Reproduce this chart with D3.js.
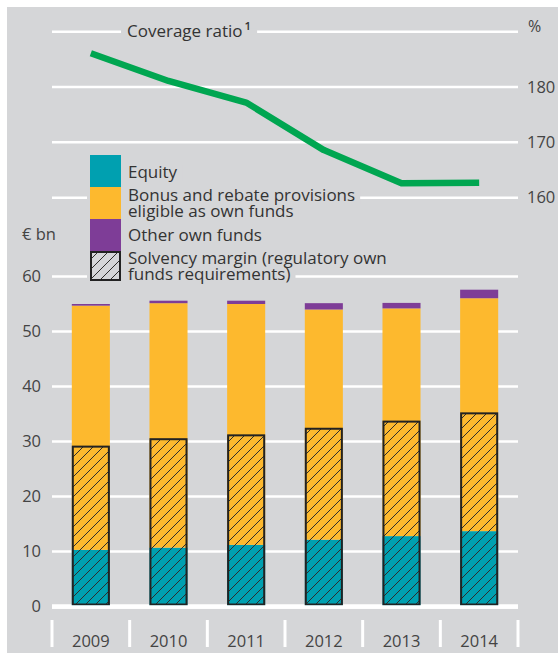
<!DOCTYPE html>
<html>
<head>
<meta charset="utf-8">
<script src="https://cdn.jsdelivr.net/npm/d3@7"></script>
<style>
  html, body { margin: 0; padding: 0; background: #fff; }
  svg { display: block; font-family: "Open Sans", "Noto Sans", sans-serif; }
</style>
</head>
<body>
<svg id="chart" width="558" height="653"></svg>
<script>
// Categories
const years = ["2009", "2010", "2011", "2012", "2013", "2014"];

// Own funds components, € bn (stacked)
const equity = [10.3, 10.7, 11.2, 12.15, 12.8, 13.7];
const bonusProvisions = [44.4, 44.45, 43.8, 41.85, 41.4, 42.35];
const otherOwnFunds = [0.3, 0.45, 0.6, 1.15, 1.0, 1.55];

// Solvency margin (regulatory own funds requirements), € bn
const solvencyMargin = [29.25, 30.6, 31.3, 32.5, 33.8, 35.3];

// Coverage ratio, %
const coverageRatio = [186.1, 181.1, 177.2, 168.6, 162.6, 162.7];

// Axis ticks
const barTicks = [0, 10, 20, 30, 40, 50, 60];
const ratioTicks = [160, 170, 180];

const colors = { equity: "#00a0b0", bonus: "#fdb92e", other: "#7e3d97", line: "#00a651" };
const bg = "#d5d6d8";
const textColor = "#333";

const svg = d3.select("#chart");

// Panel
svg.append("rect").attr("width", 558).attr("height", 653).attr("fill", "#fff");
svg.append("rect").attr("x", 7).attr("y", 7).attr("width", 551).attr("height", 646).attr("fill", bg);

// Hatch pattern for the solvency margin
const defs = svg.append("defs");
defs.append("pattern")
  .attr("id", "hatch")
  .attr("patternUnits", "userSpaceOnUse")
  .attr("width", 10).attr("height", 10)
  .append("path")
  .attr("d", "M-1,1 l2,-2 M0,10 l10,-10 M9,11 l2,-2")
  .attr("stroke", "#2e2e2e")
  .attr("stroke-width", 1);

// Scales
const x = d3.scaleBand().domain(years).range([52, 518]).paddingInner(0.51).paddingOuter(0.255);
const yBar = d3.scaleLinear().domain([0, 60]).range([606.5, 276.5]);
const yLine = d3.scaleLinear().domain([160, 190]).range([197.7, 31.7]);

// ---------- Upper panel: coverage ratio ----------
svg.append("g").selectAll("line")
  .data([160, 170, 180, 190])
  .join("line")
  .attr("x1", 52).attr("x2", 518)
  .attr("y1", d => yLine(d)).attr("y2", d => yLine(d))
  .attr("stroke", "#fff").attr("stroke-width", 2.5);

const rightAxis = svg.append("g")
  .attr("transform", "translate(518,0)")
  .call(d3.axisRight(yLine).tickValues(ratioTicks).tickSize(0).tickPadding(9));
rightAxis.select(".domain").remove();
rightAxis.selectAll("text")
  .attr("fill", "#444").attr("font-size", 16.5).attr("font-family", "'Open Sans', sans-serif");

svg.append("text")
  .attr("x", 528).attr("y", 32)
  .attr("fill", "#444").attr("font-size", 16)
  .text("%");

// Title label sitting on the top grid line
const titleG = svg.append("g");
const titleBg = titleG.append("rect").attr("fill", bg);
const title = titleG.append("text")
  .attr("x", 127).attr("y", 36.5)
  .attr("fill", textColor).attr("font-size", 17);
title.append("tspan").text("Coverage ratio");
title.append("tspan").attr("font-size", 11.5).attr("font-weight", 600).attr("dy", -7).attr("dx", 2).text("1");
{
  const b = title.node().getBBox();
  titleBg.attr("x", b.x - 6).attr("y", yLine(190) - 3).attr("width", b.width + 12).attr("height", 6);
}

const line = d3.line()
  .x((d, i) => x(years[i]) + x.bandwidth() / 2)
  .y(d => yLine(d));
svg.append("path")
  .datum(coverageRatio)
  .attr("d", line)
  .attr("fill", "none")
  .attr("stroke", colors.line)
  .attr("stroke-width", 6.5)
  .attr("stroke-linejoin", "round");

// ---------- Lower panel: own funds ----------
svg.append("g").selectAll("line")
  .data(barTicks)
  .join("line")
  .attr("x1", 52).attr("x2", 518)
  .attr("y1", d => yBar(d)).attr("y2", d => yBar(d))
  .attr("stroke", "#fff").attr("stroke-width", d => d === 0 ? 4.5 : 2.5);

const leftAxis = svg.append("g")
  .attr("transform", "translate(52,0)")
  .call(d3.axisLeft(yBar).tickValues(barTicks).tickSize(0).tickPadding(11));
leftAxis.select(".domain").remove();
leftAxis.selectAll("text")
  .attr("fill", "#444").attr("font-size", 16.5).attr("font-family", "'Open Sans', sans-serif");

svg.append("text")
  .attr("x", 22).attr("y", 240)
  .attr("fill", "#444").attr("font-size", 16.5)
  .text("€ bn");

// Stacked bars
const rows = years.map((y, i) => ({ year: y, equity: equity[i], bonus: bonusProvisions[i], other: otherOwnFunds[i] }));
const stack = d3.stack().keys(["equity", "bonus", "other"])(rows);
svg.append("g").selectAll("g")
  .data(stack)
  .join("g")
  .attr("fill", d => colors[d.key])
  .selectAll("rect")
  .data(d => d)
  .join("rect")
  .attr("x", d => x(d.data.year))
  .attr("width", x.bandwidth())
  .attr("y", d => yBar(d[1]))
  .attr("height", d => yBar(d[0]) - yBar(d[1]));

// Solvency margin overlay
svg.append("g").selectAll("rect")
  .data(solvencyMargin)
  .join("rect")
  .attr("x", (d, i) => x(years[i]) + 1)
  .attr("width", x.bandwidth() - 2)
  .attr("y", d => yBar(d) + 1)
  .attr("height", d => yBar(0) - 2 - yBar(d) - 1)
  .attr("fill", "url(#hatch)")
  .attr("stroke", "#222")
  .attr("stroke-width", 2);

// Zero line drawn again above the bars
svg.append("line")
  .attr("x1", 52).attr("x2", 518)
  .attr("y1", yBar(0) + 0.5).attr("y2", yBar(0) + 0.5)
  .attr("stroke", "#fff").attr("stroke-width", 3.5);

// Category axis: separators and year labels
const bounds = years.map(y => x(y) - x.step() * x.paddingInner() / 2).concat([518]);
svg.append("g").selectAll("line")
  .data(bounds)
  .join("line")
  .attr("x1", d => d).attr("x2", d => d)
  .attr("y1", 620).attr("y2", 647)
  .attr("stroke", "#fff").attr("stroke-width", 3);

const bottomAxis = svg.append("g")
  .attr("transform", "translate(0,626)")
  .call(d3.axisBottom(x).tickSize(0).tickPadding(9));
bottomAxis.select(".domain").remove();
bottomAxis.selectAll("text")
  .attr("fill", "#444").attr("font-size", 16.5).attr("font-family", "'Open Sans', sans-serif");

// ---------- Legend ----------
const legendItems = [
  { lines: ["Equity"], base: [178], fill: colors.equity, y: 155, h: 32 },
  { lines: ["Bonus and rebate provisions", "eligible as own funds"], base: [201, 217], fill: colors.bonus, y: 187, h: 32 },
  { lines: ["Other own funds"], base: [241], fill: colors.other, y: 219, h: 32 },
  { lines: ["Solvency margin (regulatory own", "funds requirements)"], base: [264, 280], fill: "hatch", y: 251, h: 29 }
];
const legend = svg.append("g");
const legendBg = legend.append("g");
const legendText = legend.append("g");
legendItems.forEach(item => {
  const t = legendText.append("text")
    .attr("fill", textColor).attr("font-size", 17);
  item.lines.forEach((s, k) => {
    const ts = t.append("tspan").attr("x", 128).attr("y", item.base[k]).text(s);
    const w = ts.node().getComputedTextLength();
    legendBg.append("rect")
      .attr("x", 87).attr("y", item.base[k] - 13)
      .attr("width", 128 + w + 5 - 87).attr("height", 16)
      .attr("fill", bg);
  });
});
legend.selectAll("rect.sw")
  .data(legendItems)
  .join("rect")
  .attr("class", "sw")
  .attr("x", d => d.fill === "hatch" ? 91 : 90)
  .attr("y", d => d.fill === "hatch" ? d.y + 1 : d.y)
  .attr("width", d => d.fill === "hatch" ? 29 : 31)
  .attr("height", d => d.fill === "hatch" ? d.h - 1 : d.h)
  .attr("fill", d => d.fill === "hatch" ? "url(#hatch)" : d.fill)
  .attr("stroke", d => d.fill === "hatch" ? "#222" : "none")
  .attr("stroke-width", 2);
</script>
</body>
</html>
